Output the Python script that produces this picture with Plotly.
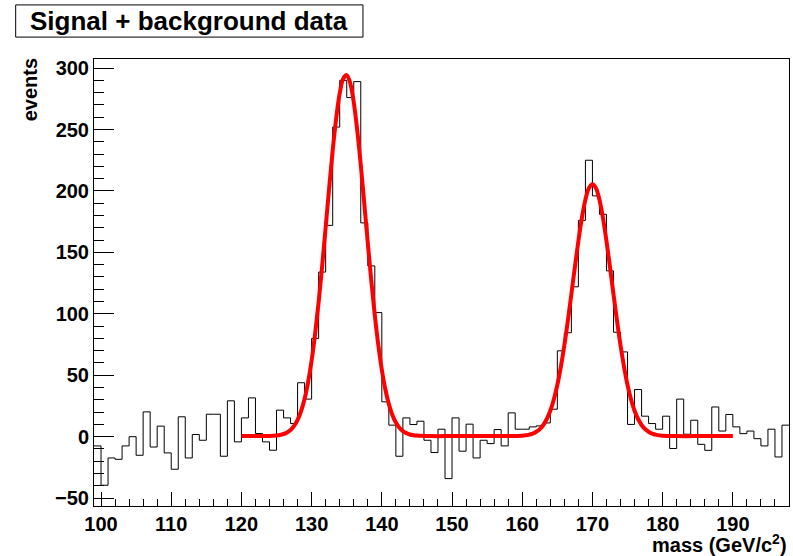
import plotly.graph_objects as go

# histogram: bins of width 1, left edges 99..197
bin_lo = 99
counts = [-7.5, -39.5, -17.3, -18.4, -7.5, 0.0, -15.1, 20.2, -8.4, 8.6,
          -13.2, -26.5, 16.2, -17.3, 1.8, -2.9, 18.3, 18.3, -15.9, 29.2,
          -4.2, 15.3, 31.6, 2.6, -4.2, -11.0, 21.6, 15.3, 10.7, 43.9,
          30.6, 80.0, 134.0, 172.0, 252.0, 290.0, 276.0, 289.0, 174.0, 139.0,
          101.0, 28.4, 9.4, -15.9, 15.3, 9.9, 12.6, -2.9, -12.9, 6.1,
          -34.1, 15.3, -11.8, 10.2, -17.3, -2.9, -5.6, 5.8, -7.5, 19.4,
          6.1, 6.1, 8.0, 8.8, 11.2, 22.4, 69.9, 84.6, 122.0, 176.0,
          225.0, 196.0, 181.0, 135.0, 85.0, 69.0, 10.0, 38.4, 16.7, 10.7,
          6.1, 16.7, -9.6, 30.6, 2.0, 13.4, -6.2, -11.1, 24.2, 4.6,
          18.1, 8.0, 2.5, 4.6, -1.6, -7.5, 6.1, -16.5, 9.4]

# fitted curve
fit_x = [120, 122, 124,
         125.0, 125.5, 126.0, 126.5, 127.0, 127.5, 128.0, 128.5, 129.0, 129.5,
         130.0, 130.5, 131.0, 131.5, 132.0, 132.5, 133.0, 133.5, 134.0, 134.5,
         135.0, 135.5, 136.0, 136.5, 137.0, 137.5, 138.0, 138.5, 139.0, 139.5,
         140.0, 140.5, 141.0, 141.5, 142.0, 142.5, 143.0, 143.5, 144.0, 144.5,
         145.0, 147, 150, 155, 158,
         160.0, 160.5, 161.0, 161.5, 162.0, 162.5, 163.0, 163.5, 164.0, 164.5,
         165.0, 165.5, 166.0, 166.5, 167.0, 167.5, 168.0, 168.5, 169.0, 169.5,
         170.0, 170.5, 171.0, 171.5, 172.0, 172.5, 173.0, 173.5, 174.0, 174.5,
         175.0, 175.5, 176.0, 176.5, 177.0, 177.5, 178.0, 178.5, 179.0, 179.5,
         180.0, 182, 186, 190]
fit_y = [0.5, 0.5, 0.6,
         1.0, 1.4, 2.2, 3.5, 5.5, 8.8, 13.7, 20.9, 30.9, 44.5,
         62.0, 83.8, 109.6, 138.9, 170.5, 202.5, 232.9, 259.2, 279.4, 291.4,
         294.3, 287.7, 272.2, 249.3, 221.1, 189.8, 157.7, 126.9, 98.8, 74.6,
         54.5, 38.6, 26.5, 17.7, 11.5, 7.3, 4.6, 2.9, 1.8, 1.2,
         0.9, 0.5, 0.5, 0.5, 0.5,
         0.8, 1.1, 1.7, 2.5, 4.0, 6.2, 9.5, 14.4, 21.1, 30.3,
         42.1, 56.9, 74.4, 94.4, 116.0, 138.1, 159.3, 178.1, 192.8, 202.3,
         205.5, 202.3, 192.8, 178.1, 159.3, 138.1, 116.0, 94.4, 74.4, 56.9,
         42.1, 30.3, 21.1, 14.4, 9.5, 6.2, 4.0, 2.5, 1.7, 1.1,
         0.8, 0.5, 0.5, 0.5]

x_range = [99, 198]
y_range = [-56.4, 307.4]

edges = [bin_lo + i for i in range(len(counts) + 1)]
hist_y = counts + [counts[-1]]

FONT = "Liberation Sans, Arial, Helvetica, sans-serif"

fig = go.Figure()
fig.add_trace(go.Scatter(x=edges, y=hist_y, mode="lines", line_shape="hv",
                         line=dict(color="black", width=1), hoverinfo="skip",
                         showlegend=False))
fig.add_trace(go.Scatter(x=fit_x, y=fit_y, mode="lines", line_shape="spline",
                         line=dict(color="#ff0000", width=4), showlegend=False))

fig.update_layout(
    width=793, height=556,
    margin=dict(l=94, r=4, t=59, b=50, autoexpand=False),
    paper_bgcolor="white", plot_bgcolor="white",
    font=dict(family=FONT, color="black"),
)
fig.update_xaxes(range=x_range, showgrid=False, zeroline=False, automargin=False,
                 showline=True, mirror=True, linecolor="black", linewidth=1,
                 ticks="inside", ticklen=14, tickcolor="black", tickwidth=1,
                 dtick=10, tick0=100,
                 minor=dict(ticks="inside", ticklen=7, dtick=2, tickcolor="black", showgrid=False),
                 tickfont=dict(family=FONT, size=20, weight="bold", color="black"))
fig.update_yaxes(range=y_range, showgrid=False, zeroline=False, automargin=False,
                 showline=True, mirror=True, linecolor="black", linewidth=1,
                 ticks="inside", ticklen=20, tickcolor="black", tickwidth=1,
                 dtick=50, tick0=0,
                 minor=dict(ticks="inside", ticklen=10, dtick=10, tickcolor="black", showgrid=False),
                 tickfont=dict(family=FONT, size=20, weight="bold", color="black"))

# title box
fig.add_shape(type="rect", xref="paper", yref="paper",
              x0=-0.1127, x1=0.387, y0=1.049, y1=1.121,
              line=dict(color="black", width=1), fillcolor="white")
fig.add_annotation(text="Signal + background data", xref="paper", yref="paper",
                   x=0.137, y=1.085, xanchor="center", yanchor="middle", showarrow=False,
                   font=dict(family=FONT, size=26, weight="bold", color="black"))
# axis titles
fig.add_annotation(text="events", xref="paper", yref="paper", textangle=-90,
                   x=-0.092, y=0.93, xanchor="center", yanchor="middle", showarrow=False,
                   font=dict(family=FONT, size=20, weight="bold", color="black"))
fig.add_annotation(text="mass (GeV/c<sup>2</sup>)", xref="paper", yref="paper",
                   x=1.0, y=-0.085, xanchor="right", yanchor="middle", showarrow=False,
                   font=dict(family=FONT, size=20, weight="bold", color="black"))

fig.write_html("out.html", config={"displayModeBar": False},
               post_script="document.body.style.margin='0';document.body.style.overflow='hidden';")
